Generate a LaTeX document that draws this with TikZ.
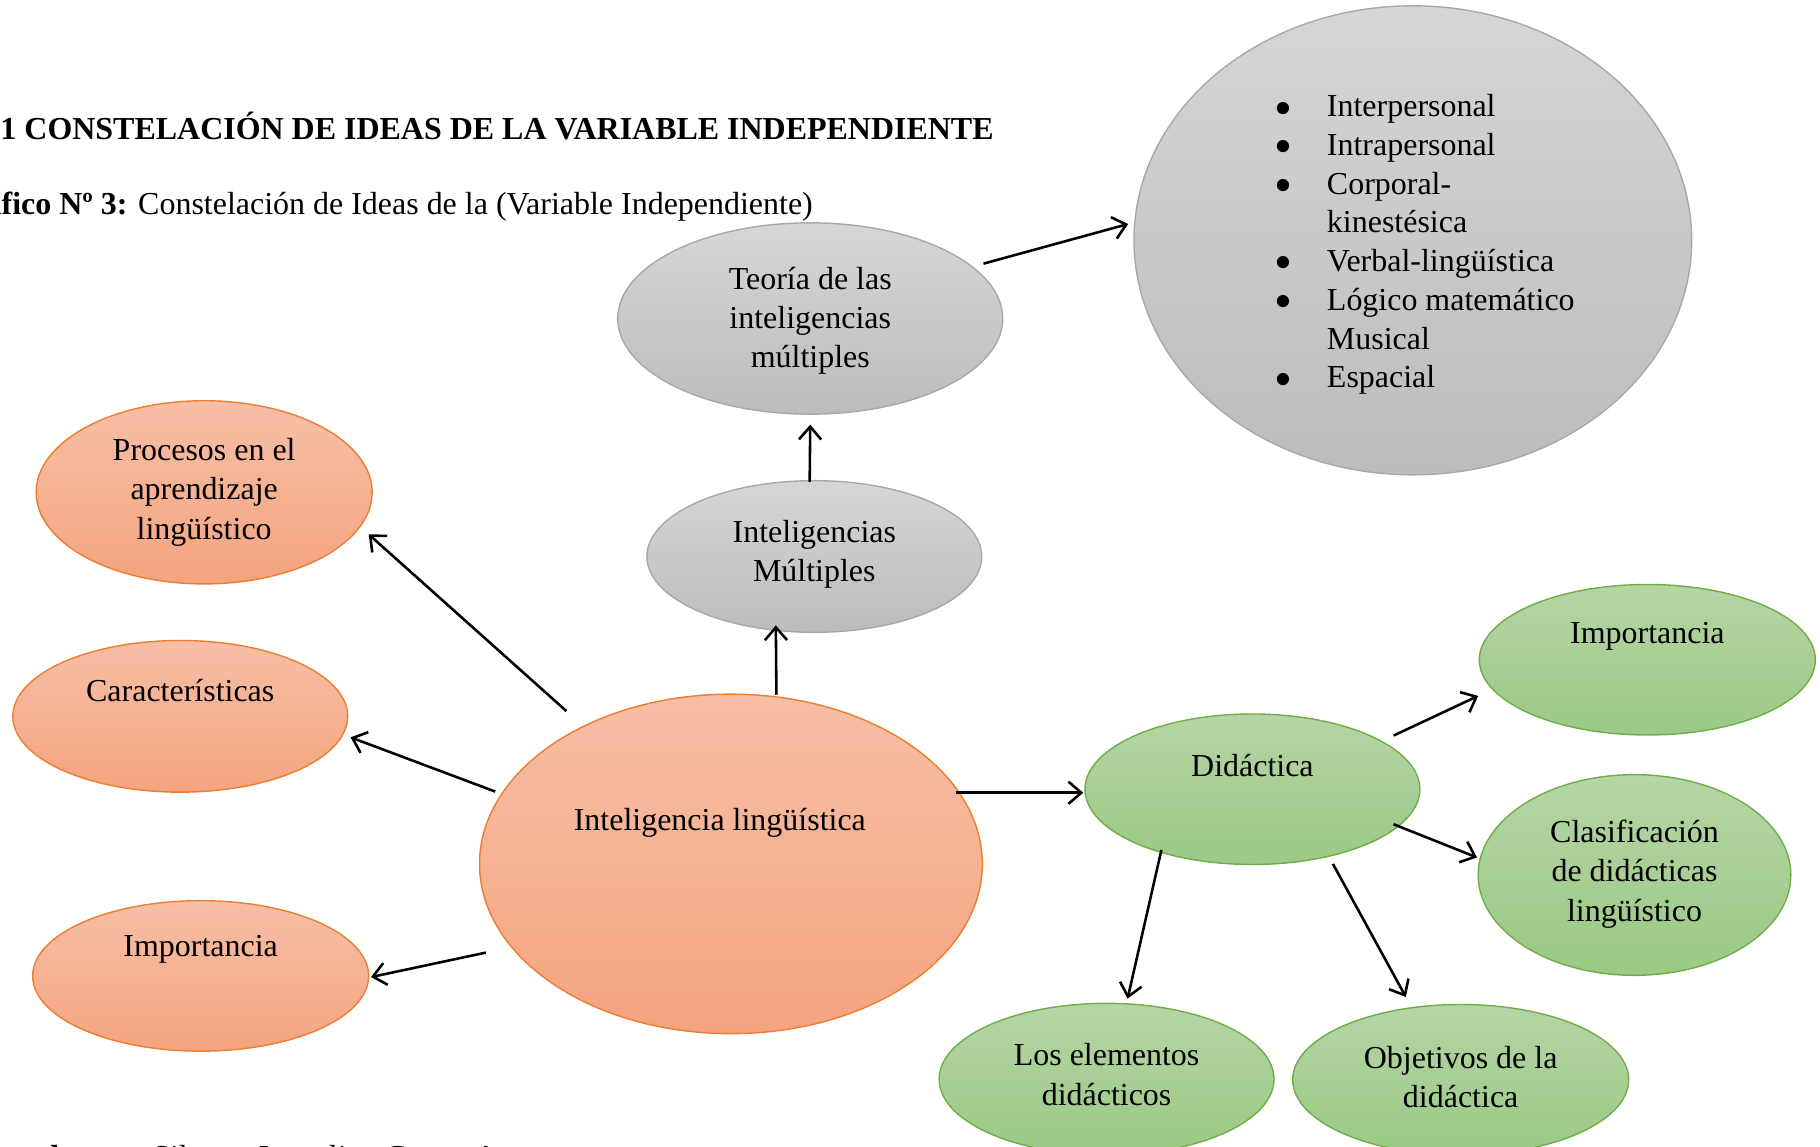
\documentclass[tikz,border=0pt]{standalone}
\usepackage{fontspec}
\setmainfont{Liberation Serif}
\usetikzlibrary{shapes.geometric,arrows.meta,calc}
\definecolor{orTop}{HTML}{F7BFA6}
\definecolor{orBot}{HTML}{F4A47F}
\definecolor{orLine}{HTML}{ED7D31}
\definecolor{grTop}{HTML}{D6D6D6}
\definecolor{grBot}{HTML}{BCBCBC}
\definecolor{grLine}{HTML}{A8A8A8}
\definecolor{gnTop}{HTML}{B5D5A5}
\definecolor{gnBot}{HTML}{9BC985}
\definecolor{gnLine}{HTML}{70AD47}
\newcommand{\bigbul}{\makebox[0pt]{\smash{\raisebox{-3.6pt}{\scalebox{1.6}{•}}}}}
\begin{document}
\begin{tikzpicture}[x=0.5pt,y=-0.5pt,
  ell/.style={ellipse,inner sep=0pt,line width=0.6pt},
  oell/.style={ell,draw=orLine,top color=orTop,bottom color=orBot},
  gell/.style={ell,draw=grLine,top color=grTop,bottom color=grBot},
  vell/.style={ell,draw=gnLine,top color=gnTop,bottom color=gnBot},
  txt/.style={align=center,font=\fontsize{13.7}{16.9}\selectfont,inner sep=0pt},
  plain/.style={inner sep=0pt,font=\fontsize{13.7}{16}\selectfont},
  arr/.style={line width=1.1pt,-{Straight Barb[length=5.5pt,width=9.5pt,line width=1.1pt]}}]
\useasboundingbox (0,0) rectangle (1560,983.1);

% header and footer texts
\node[plain,anchor=base west] (title) at (0,120) {\textbf{1 CONSTELACIÓN DE IDEAS DE LA VARIABLE INDEPENDIENTE}};
\node[plain,anchor=base west] (caption) at (1,184) {\llap{\textbf{Grá}}\textbf{fico Nº 3:} Constelación de Ideas de la (Variable Independiente)};
\node[plain,anchor=base west] (author) at (35,1001) {\llap{\textbf{Elabora}}\textbf{do por:} Silvana Jaqueline Cueva A.};

% gray branch
\node[gell,minimum width=239pt,minimum height=201pt] (list) at (1211,206) {};
\node[plain,anchor=base west] (listt) at (1100,100) {\fontsize{13.7}{16.6}\selectfont
  \begin{tabular}[t]{@{}p{18.5pt}@{}l@{}}
  \bigbul & Interpersonal\\
  \bigbul & Intrapersonal\\
  \bigbul & Corporal-\\
          & kinestésica\\
  \bigbul & Verbal-lingüística\\
  \bigbul & Lógico matemático\\
          & Musical\\
  \bigbul & Espacial
  \end{tabular}};
\node[gell,minimum width=165pt,minimum height=82pt] (teo) at (694.5,273) {};
\node[txt] (teot) at (694.5,275) {Teoría de las\\inteligencias\\múltiples};
\node[gell,minimum width=143.5pt,minimum height=65pt] (im) at (698,477) {};
\node[txt] (imt) at (698,475) {Inteligencias\\Múltiples};

% orange branch
\node[oell,minimum width=144pt,minimum height=78.5pt] (proc) at (175,422) {};
\node[txt] (proct) at (175,422) {Procesos en el\\aprendizaje\\lingüístico};
\node[oell,minimum width=143.5pt,minimum height=65pt] (car) at (154.5,614) {};
\node[txt] (cart) at (154.5,592) {Características};
\node[oell,minimum width=144pt,minimum height=64.5pt] (impL) at (172,836.5) {};
\node[txt] (impLt) at (172,814) {Importancia};
\node[oell,minimum width=215.5pt,minimum height=145.5pt] (il) at (626.5,740.5) {};
\node[txt] (ilt) at (617,705) {Inteligencia lingüística};

% green branch
\node[vell,minimum width=143.5pt,minimum height=64.5pt] (did) at (1073.5,676.5) {};
\node[txt] (didt) at (1073.5,656) {Didáctica};
\node[vell,minimum width=144pt,minimum height=64.5pt] (impR) at (1412,565.5) {};
\node[txt] (impRt) at (1412,545) {Importancia};
\node[vell,minimum width=134pt,minimum height=86pt] (clas) at (1401,750) {};
\node[txt] (clast) at (1401,749) {Clasificación\\de didácticas\\lingüístico};
\node[vell,minimum width=143.5pt,minimum height=65pt] (elem) at (948.5,925) {};
\node[txt] (elemt) at (948.5,921) {Los elementos\\didácticos};
\node[vell,minimum width=144pt,minimum height=64.5pt] (obj) at (1252,925.5) {};
\node[txt] (objt) at (1252,923) {Objetivos de la\\didáctica};

% connectors
\draw[arr] ($(il)+(-141,-131)$) -- ($(proc)+(141,36)$);
\draw[arr] ($(il)+(-202,-62)$) -- ($(car)+(146,18)$);
\draw[arr] ($(il)+(-210,76)$) -- ($(impL)+(146,1)$);
\draw[arr] ($(il)+(39,-145)$) -- ($(im)+(-33,59)$);
\draw[arr] ($(im)+(-4,-64)$) -- ($(teo)+(0,91)$);
\draw[arr] ($(teo)+(148.5,-47)$) -- ($(list)+(-244,-14)$);
\draw[arr] ($(il)+(193,-61)$) -- ($(did)+(-145,3)$);
\draw[arr] ($(did)+(121,-46)$) -- ($(impR)+(-145,31)$);
\draw[arr] ($(did)+(121,30)$) -- ($(clas)+(-135,-15)$);
\draw[arr] ($(did)+(-78,52)$) -- ($(elem)+(18,-69)$);
\draw[arr] ($(did)+(69,64)$) -- ($(obj)+(-47,-71)$);
\end{tikzpicture}
\end{document}
